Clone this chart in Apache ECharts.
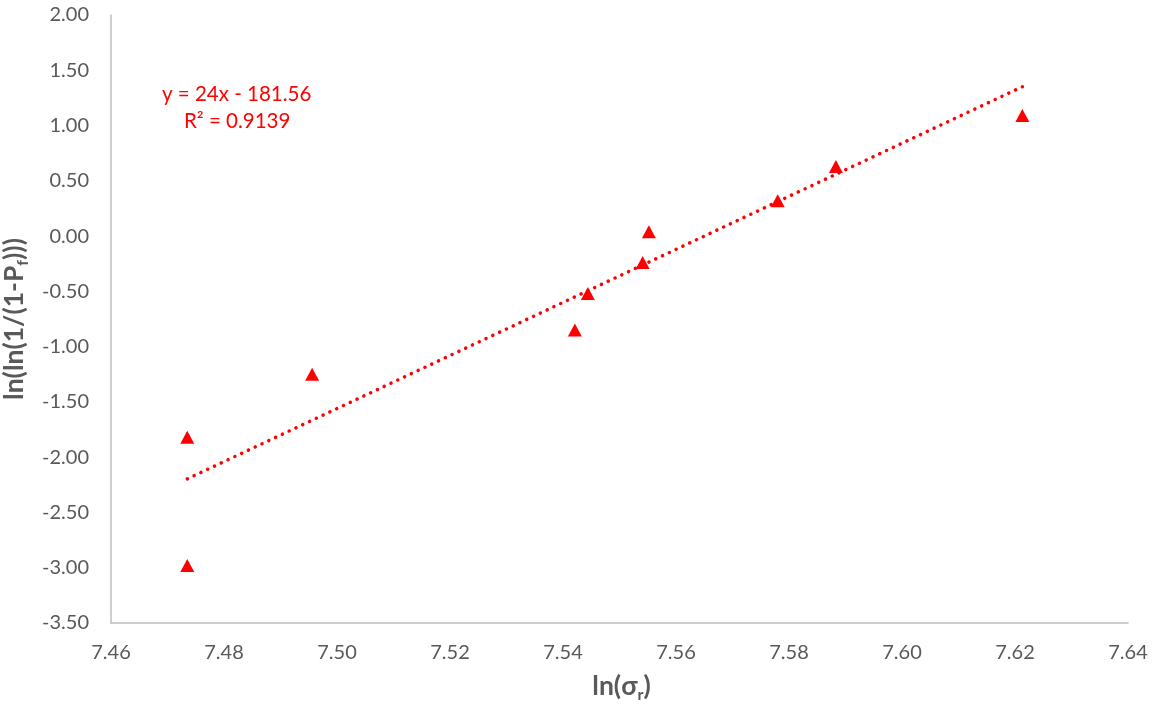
<!DOCTYPE html>
<html>
<head>
<meta charset="utf-8">
<script src="https://cdn.jsdelivr.net/npm/echarts@6/dist/echarts.min.js"></script>
<style>
  html, body { margin: 0; padding: 0; background: #fff; }
  #chart { width: 1163px; height: 704px; }
</style>
</head>
<body>
<div id="chart"></div>
<script>
// Weibull plot: ln(sigma_r) vs ln(ln(1/(1-Pf)))
const lnSigma = [7.4735, 7.4735, 7.4956, 7.5421, 7.5444, 7.5541, 7.5552, 7.5780, 7.5883, 7.6213];
const lnLnP   = [-2.98, -1.82, -1.25, -0.85, -0.52, -0.24, 0.04, 0.32, 0.63, 1.09];

// Linear trendline reported on the chart
const slope = 24;
const intercept = -181.56;
const rSquared = '0.9139';

const xTicks = { min: 7.46, max: 7.64, interval: 0.02 };
const yTicks = { min: -3.5, max: 2.0, interval: 0.5 };

const points = lnSigma.map((x, i) => [x, lnLnP[i]]);
const xLo = Math.min(...lnSigma), xHi = Math.max(...lnSigma);
const trend = [[xLo, slope * xLo + intercept], [xHi, slope * xHi + intercept]];

const FONT = 'Lato, "Noto Sans", sans-serif';
const GREY = '#595959';

// rich styles for axis titles with a subscript
const titleRich = {
  m: { fontFamily: FONT, fontSize: 26.5, fontWeight: 'bold', color: GREY, lineHeight: 34 },
  s: { fontFamily: FONT, fontSize: 16, fontWeight: 'bold', color: GREY, lineHeight: 16, verticalAlign: 'bottom' }
};

const chart = echarts.init(document.getElementById('chart'), null, { renderer: 'canvas' });
chart.setOption({
  animation: false,
  backgroundColor: '#ffffff',
  grid: { left: 111, right: 35, top: 15, bottom: 81, containLabel: false, outerBoundsMode: 'none' },
  xAxis: {
    type: 'value',
    min: xTicks.min, max: xTicks.max, interval: xTicks.interval,
    axisLine: { show: true, onZero: false, lineStyle: { color: '#bfbfbf', width: 1.5 } },
    axisTick: { show: false },
    splitLine: { show: false },
    axisLabel: { color: GREY, fontFamily: FONT, fontSize: 20, margin: 20,
                 formatter: v => v.toFixed(2) },
    name: '{m|ln(σ}{s|r}{m|)}',
    nameLocation: 'middle',
    nameGap: 46,
    nameTextStyle: { rich: titleRich, padding: [0, 0, 0, 4] }
  },
  yAxis: {
    type: 'value',
    min: yTicks.min, max: yTicks.max, interval: yTicks.interval,
    axisLine: { show: true, onZero: false, lineStyle: { color: '#bfbfbf', width: 1.5 } },
    axisTick: { show: false },
    splitLine: { show: false },
    axisLabel: { color: GREY, fontFamily: FONT, fontSize: 20, margin: 22,
                 formatter: v => v.toFixed(2) },
    name: '{m|ln(ln(1/(1-P}{s|f}{m|)))}',
    nameLocation: 'middle',
    nameRotate: 90,
    nameGap: 70,
    nameTextStyle: { rich: titleRich }
  },
  series: [
    {
      type: 'line',
      data: trend,
      symbol: 'none',
      lineStyle: { color: '#ff0000', width: 3.5, type: [0.1, 7.4], cap: 'round' },
      z: 2
    },
    {
      type: 'scatter',
      data: points,
      symbol: 'triangle',
      symbolSize: [14, 13],
      itemStyle: { color: '#ff0000', opacity: 1 },
      z: 3
    }
  ],
  graphic: [
    {
      type: 'text', left: 162, top: 84,
      style: { text: 'y = 24x - 181.56', fill: '#ff0000', font: '20.5px ' + FONT }
    },
    {
      type: 'text', left: 184, top: 111,
      style: { text: 'R² = ' + rSquared, fill: '#ff0000', font: '20.5px ' + FONT }
    }
  ]
});
</script>
</body>
</html>
